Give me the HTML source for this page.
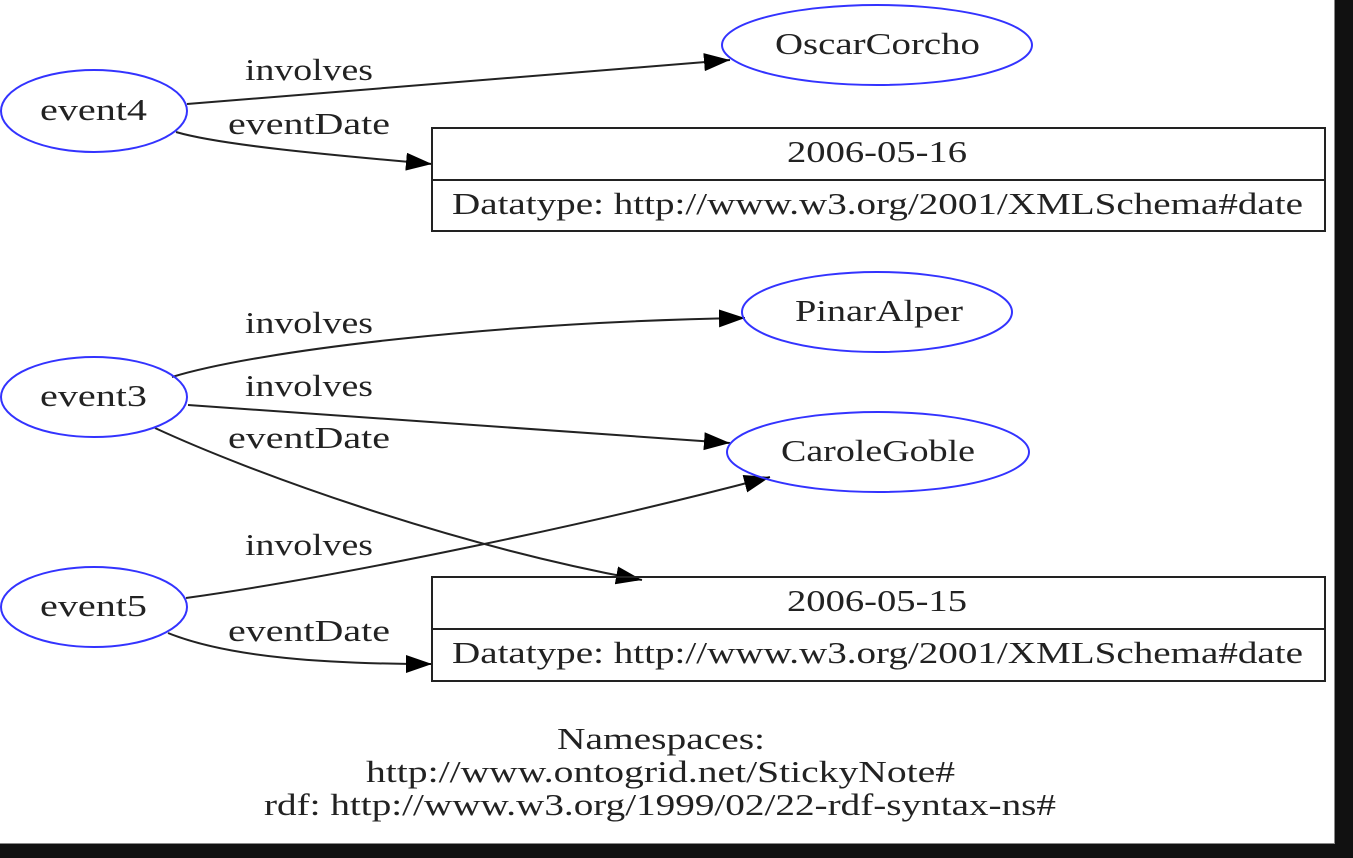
<!DOCTYPE html>
<html><head><meta charset="utf-8"><style>
html,body{margin:0;padding:0;background:#fff;}
svg{display:block;}
text{font-family:"Liberation Serif",serif;font-size:31px;fill:#222;}
</style></head><body>
<svg width="1353" height="858" viewBox="0 0 1353 858" xmlns="http://www.w3.org/2000/svg">
<defs>
<marker id="a" markerUnits="userSpaceOnUse" markerWidth="30" markerHeight="20" refX="26" refY="9" orient="auto">
<polygon points="0,0 26,9 0,18" fill="#000"/>
</marker>
</defs>
<rect width="1353" height="858" fill="#fff"/>
<g fill="none" stroke="#222" stroke-width="2">
<path d="M187,104 L730,60" marker-end="url(#a)"/>
<path d="M176,132 C220,145 330,155 432,164" marker-end="url(#a)"/>
<path d="M172,377 C260,350 500,322 745,318" marker-end="url(#a)"/>
<path d="M188,405 L730,443" marker-end="url(#a)"/>
<path d="M155,428 C250,472 450,545 642,580" marker-end="url(#a)"/>
<path d="M186,598 C350,575 600,522 770,477" marker-end="url(#a)"/>
<path d="M168,633 C230,658 330,664 432,664" marker-end="url(#a)"/>
</g>
<g fill="none" stroke="#3333ff" stroke-width="2">
<ellipse cx="94" cy="111" rx="93" ry="41"/>
<ellipse cx="94" cy="397" rx="93" ry="40"/>
<ellipse cx="94" cy="607" rx="93" ry="40"/>
<ellipse cx="877" cy="45" rx="155" ry="40"/>
<ellipse cx="877" cy="312" rx="135" ry="40"/>
<ellipse cx="878" cy="452" rx="151" ry="40"/>
</g>
<g fill="none" stroke="#222" stroke-width="2">
<rect x="432" y="128" width="893" height="103"/>
<line x1="432" y1="180" x2="1325" y2="180"/>
<rect x="432" y="577" width="893" height="104"/>
<line x1="432" y1="629" x2="1325" y2="629"/>
</g>
<g>
<text x="40" y="120" textLength="107" lengthAdjust="spacingAndGlyphs">event4</text>
<text x="40" y="406" textLength="107" lengthAdjust="spacingAndGlyphs">event3</text>
<text x="40" y="616" textLength="107" lengthAdjust="spacingAndGlyphs">event5</text>
<text x="775" y="54" textLength="205" lengthAdjust="spacingAndGlyphs">OscarCorcho</text>
<text x="795" y="321" textLength="168" lengthAdjust="spacingAndGlyphs">PinarAlper</text>
<text x="781" y="461" textLength="194" lengthAdjust="spacingAndGlyphs">CaroleGoble</text>
<text x="245" y="80" textLength="128" lengthAdjust="spacingAndGlyphs">involves</text>
<text x="228" y="134" textLength="162" lengthAdjust="spacingAndGlyphs">eventDate</text>
<text x="245" y="333" textLength="128" lengthAdjust="spacingAndGlyphs">involves</text>
<text x="245" y="396" textLength="128" lengthAdjust="spacingAndGlyphs">involves</text>
<text x="228" y="448" textLength="162" lengthAdjust="spacingAndGlyphs">eventDate</text>
<text x="245" y="555" textLength="128" lengthAdjust="spacingAndGlyphs">involves</text>
<text x="228" y="641" textLength="162" lengthAdjust="spacingAndGlyphs">eventDate</text>
<text x="787" y="162" textLength="180" lengthAdjust="spacingAndGlyphs">2006-05-16</text>
<text x="452" y="214" textLength="851" lengthAdjust="spacingAndGlyphs">Datatype: http://www.w3.org/2001/XMLSchema#date</text>
<text x="787" y="611" textLength="180" lengthAdjust="spacingAndGlyphs">2006-05-15</text>
<text x="452" y="663" textLength="851" lengthAdjust="spacingAndGlyphs">Datatype: http://www.w3.org/2001/XMLSchema#date</text>
<text x="557" y="749" textLength="208" lengthAdjust="spacingAndGlyphs">Namespaces:</text>
<text x="366" y="782" textLength="589" lengthAdjust="spacingAndGlyphs">http://www.ontogrid.net/StickyNote#</text>
<text x="264" y="815" textLength="792" lengthAdjust="spacingAndGlyphs">rdf: http://www.w3.org/1999/02/22-rdf-syntax-ns#</text>
</g>
<line x1="1334.5" y1="0" x2="1334.5" y2="844" stroke="#888" stroke-width="1"/>
<line x1="0" y1="843.5" x2="1335" y2="843.5" stroke="#888" stroke-width="1"/>
<rect x="1335" y="0" width="18" height="858" fill="#111"/>
<rect x="0" y="844" width="1353" height="14" fill="#111"/>
</svg>
</body></html>
